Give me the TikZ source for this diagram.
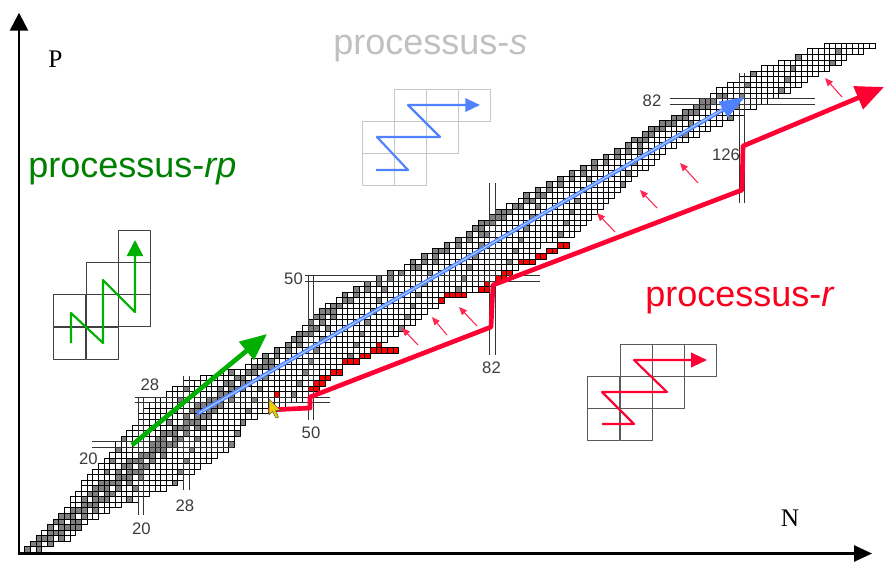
\documentclass[tikz,border=0pt]{standalone}
\usepackage{fontspec}
\setmainfont{Liberation Serif}
\newfontfamily\arialf{Liberation Sans}
\usetikzlibrary{arrows.meta}
\definecolor{rpgreen}{RGB}{0,175,0}
\definecolor{rptext}{RGB}{0,128,0}
\definecolor{sblue}{RGB}{80,130,255}
\definecolor{sbluelight}{RGB}{170,205,255}
\definecolor{rred}{RGB}{255,0,50}
\definecolor{rtext}{RGB}{250,0,30}
\definecolor{stext}{RGB}{192,192,192}
\definecolor{numgray}{RGB}{60,60,60}
\definecolor{curyellow}{RGB}{235,205,0}

\begin{document}
\begin{tikzpicture}[x=0.75pt,y=-0.75pt,line join=round,
  cell/.style={draw=black,line width=0.55pt,fill=white},
  cellgray/.style={cell,fill=gray},
  cellred/.style={cell,fill=red},
  magic/.style={black!80,line width=0.6pt},
  legcell/.style={line width=0.7pt},
  proclabel/.style={anchor=base west,inner sep=0pt,font=\arialf\fontsize{27}{30}\selectfont},
  magicnum/.style={inner sep=0pt,text=numgray,font=\arialf\fontsize{12.5}{14}\selectfont},
  axislabel/.style={inner sep=0pt,font=\fontsize{19}{21}\selectfont},
  smallarr/.style={rred!85,line width=0.8pt,-{Triangle[length=6pt,width=5pt]}}]
\useasboundingbox (0,0) rectangle (885,562);

\begin{scope}[shift={(18.45pt,-418.2pt)},x=4.2525pt,y=4.1475pt]
\foreach \z/\a/\b in {
1/0/2,2/1/4,3/2/7,4/3/8,5/4/9,6/5/10,7/6/12,8/7/14,9/8/16,10/8/19,
11/9/21,12/10/24,13/10/26,14/11/27,15/12/29,16/13/30,17/14/32,18/15/33,19/16/35,20/16/36,
21/17/36,22/18/37,23/19/37,24/20/38,25/20/40,26/21/42,27/22/45,28/23/49,29/25/50,30/26/51,
31/28/51,32/31/52,33/35/53,34/39/55,35/40/56,36/42/58,37/44/60,38/46/61,39/47/63,40/48/65,
41/49/66,42/50/68,43/51/69,44/52/70,45/53/72,46/55/73,47/56/77,48/58/81,49/60/82,50/62/83,
51/64/85,52/67/86,53/68/87,54/70/88,55/72/89,56/74/90,57/76/93,58/78/96,59/79/97,60/80/98,
61/82/99,62/83/100,63/85/101,64/87/102,65/88/103,66/90/104,67/92/105,68/94/106,69/96/107,70/98/109,
71/100/110,72/102/111,73/104/112,74/106/114,75/107/116,76/109/118,77/110/120,78/112/122,79/114/124,80/116/126,
81/118/128,82/119/130,83/121/132,84/122/134,85/124/136,86/126/137,87/128/139,88/130/141,89/133/143,90/136/144,
91/138/147,92/141/149}{
  \pgfmathtruncatemacro\g{max(round(1.2*\z),\a+1)}
  \pgfmathtruncatemacro\w{\z<32 ? 3 : 2}
  \foreach \n in {\a,...,\b}{
    \pgfmathtruncatemacro\isgray{((abs(\n-\g)<\w)&&(mod(\n+2*\z,4)!=3)&&(\z<84))||(mod(7*\n+3*\z,13)==0)}
    \ifnum\isgray=1
      \filldraw[cellgray] (\n,\z) rectangle ++(1,1);
    \else
      \filldraw[cell] (\n,\z) rectangle ++(1,1);
    \fi
  }
}
\foreach \n/\z in {44/29,50/30,51/30,51/31,52/31,52/32,53/32,54/33,55/33,56/35,57/35,58/35,59/36,60/36,
  61/37,62/37,63/37,64/37,65/37,62/38,73/46,74/47,75/47,76/47,77/47,80/48,81/48,81/49,83/50,84/50,
  84/51,85/51,87/53,88/53,89/53,90/54,91/54,92/55,93/55,94/56,95/56}
  \filldraw[cellred] (\n,\z) rectangle ++(1,1);
\draw[magic] (20,7.7) -- (20,29);
\draw[magic] (21,7.7) -- (21,29);
\draw[magic] (11.9,20) -- (36.8,20);
\draw[magic] (11.9,21) -- (36.8,21);
\draw[magic] (28,12.2) -- (28,32.8);
\draw[magic] (29,12.2) -- (29,32.8);
\draw[magic] (19.5,28) -- (53.9,28);
\draw[magic] (19.5,29) -- (53.9,29);
\draw[magic] (50,24.9) -- (50,51);
\draw[magic] (51,24.9) -- (51,51);
\draw[magic] (49.5,50) -- (90.9,50);
\draw[magic] (49.5,51) -- (90.9,51);
\draw[magic] (82,36.6) -- (82,67.7);
\draw[magic] (83,36.6) -- (83,67.7);
\draw[magic] (113.8,82) -- (139.4,82);
\draw[magic] (113.8,83) -- (139.4,83);
\draw[magic] (126,64.1) -- (126,87.6);
\draw[magic] (127,64.1) -- (127,87.6);
\end{scope}

\node[magicnum] (z20) at (88.5,459) {20};
\node[magicnum] (n20) at (141.5,529) {20};
\node[magicnum] (z28) at (150,385) {28};
\node[magicnum] (n28) at (185,505.5) {28};
\node[magicnum] (z50) at (293.5,278.5) {50};
\node[magicnum] (n50) at (311,433) {50};
\node[magicnum] (n82) at (491.5,367.5) {82};
\node[magicnum] (z82) at (652,101) {82};
\node[magicnum] (n126) at (726,155) {126};

\draw[sblue,line width=3pt,-{Triangle[length=19pt,width=13pt]}] (197,414) -- (745,97);
\draw[sbluelight,line width=0.8pt] (199,413) -- (722,110);
\draw[rpgreen,line width=3.5pt,-{Triangle[length=20pt,width=17pt]}] (132,445) -- (267,334);
\draw[rred,line width=3.5pt,-{Triangle[length=21pt,width=18pt]}] (268,410) -- (310,408) -- (310,397)
  -- (491,327) -- (493,285) -- (742,190) -- (743,146) -- (884,87);

\foreach \tx/\ty/\hx/\hy in {418/345/402/328,447/335/432/317,477/326/459/307,615/232/597/213,
  657/208/640/190,698/183/680/163,842/97/825/78}
  \draw[smallarr] (\tx,\ty) -- (\hx,\hy);

\filldraw[fill=curyellow,draw=black!70!yellow,line width=0.4pt] (269,399) -- (269,415) -- (272.5,411.5)
  -- (276,418) -- (278.5,417) -- (275.5,410.5) -- (280.5,410.5) -- cycle;

\foreach \x/\y in {53/327,86/327,53/294,86/294,118/294,86/262,118/262,118/230}
  \draw[legcell,black!75] (\x,\y) rectangle ++(32.3,32.3);
\draw[rpgreen,line width=1.6pt,-{Triangle[length=12pt,width=12pt]}] (71,343) -- (71,313) -- (103,343)
  -- (103,280) -- (135,312) -- (135,240);

\foreach \x/\y in {394/89,426/89,458/89,362/121,394/121,426/121,362/153,394/153}
  \draw[legcell,black!22] (\x,\y) rectangle ++(32.3,32.3);
\draw[sblue,line width=1.6pt,-{Triangle[length=11pt,width=10pt]}] (376,170) -- (408,170) -- (377,137)
  -- (440,137) -- (408,105) -- (480,105);

\foreach \x/\y in {620/344,652/344,684/344,587/376,620/376,652/376,587/408,620/408}
  \draw[legcell,black!65] (\x,\y) rectangle ++(32.3,32.3);
\draw[rred,line width=1.6pt,-{Triangle[length=12pt,width=11pt]}] (602,424) -- (634,424) -- (602,392)
  -- (667,392) -- (634,360) -- (707,360);

\node[proclabel,text=stext] (slab) at (333,54) {processus-\textit{s}};
\node[proclabel,text=rptext] (rplab) at (28,177) {processus-\textit{rp}};
\node[proclabel,text=rtext] (rlab) at (645,306) {processus-\textit{r}};

\node[axislabel] (plab) at (55.5,59) {P};
\node[axislabel] (nlab) at (790,518.5) {N};
\draw[line width=2pt,-{Triangle[length=13.5pt,width=13.5pt]}] (19,553.5) -- (19,12.7);
\draw[line width=2pt,-{Triangle[length=13.5pt,width=12pt]}] (18,553.5) -- (872,553.5);
\end{tikzpicture}
\end{document}
